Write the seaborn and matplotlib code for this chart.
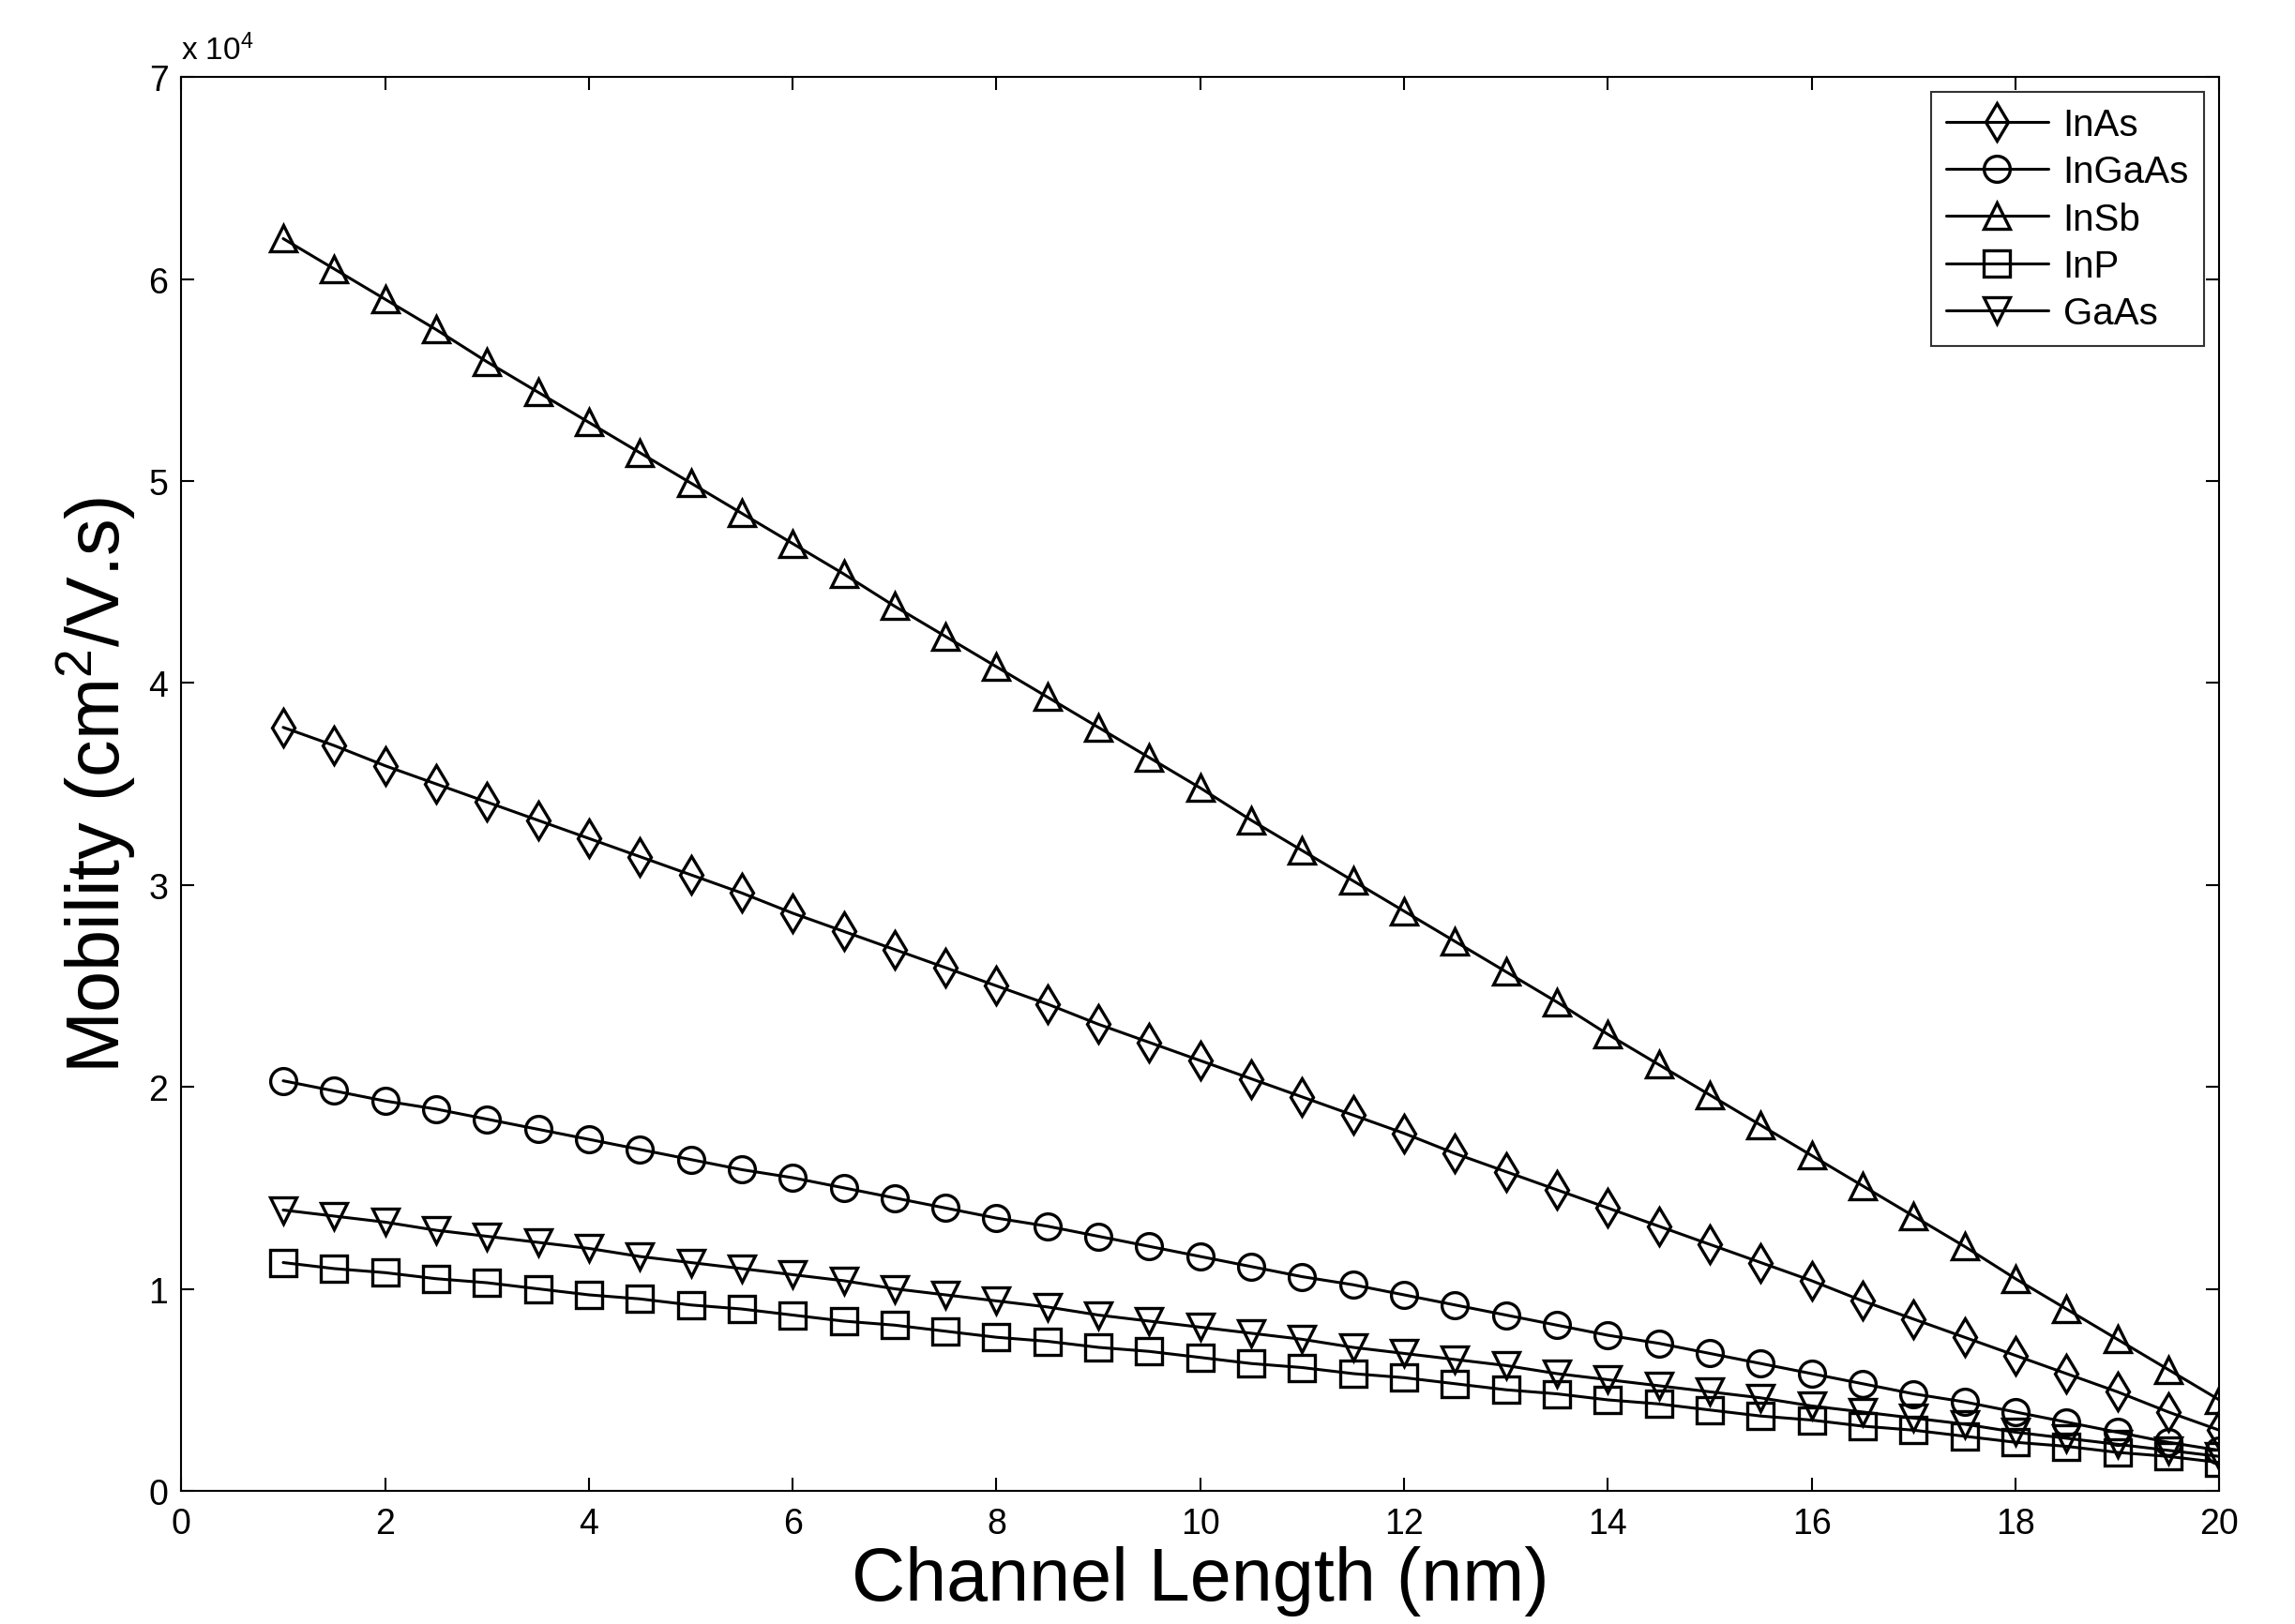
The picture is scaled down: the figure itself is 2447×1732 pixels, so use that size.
import matplotlib
matplotlib.use("Agg")
import matplotlib.pyplot as plt
import seaborn as sns
import pandas as pd
from matplotlib.ticker import FuncFormatter

# channel length (nm)
channel_length = [1, 1.5, 2, 2.5, 3, 3.5, 4, 4.5, 5, 5.5, 6, 6.5, 7, 7.5, 8, 8.5, 9, 9.5, 10,
                  10.5, 11, 11.5, 12, 12.5, 13, 13.5, 14, 14.5, 15, 15.5, 16, 16.5, 17, 17.5,
                  18, 18.5, 19, 19.5, 20]

# mobility (cm^2/V.s)
inas = [37800, 36900, 35900, 35000, 34100, 33200, 32300, 31400, 30500, 29600, 28600, 27700,
        26800, 25900, 25000, 24100, 23100, 22200, 21300, 20400, 19500, 18600, 17700, 16700,
        15800, 14900, 14000, 13100, 12200, 11300, 10400, 9400, 8500, 7600, 6700, 5800, 4900,
        3900, 3000]
ingaas = [20300, 19800, 19300, 18900, 18400, 17900, 17400, 16900, 16400, 15900, 15500, 15000,
          14500, 14000, 13500, 13100, 12600, 12100, 11600, 11100, 10600, 10200, 9700, 9200,
          8700, 8200, 7700, 7300, 6800, 6300, 5800, 5300, 4800, 4400, 3900, 3400, 2900, 2400,
          2000]
insb = [62000, 60500, 59000, 57500, 55900, 54400, 52900, 51400, 49900, 48400, 46900, 45400,
        43800, 42300, 40800, 39300, 37800, 36300, 34800, 33200, 31700, 30200, 28700, 27200,
        25700, 24200, 22600, 21100, 19600, 18100, 16600, 15100, 13600, 12100, 10500, 9000,
        7500, 6000, 4500]
inp = [11300, 11000, 10800, 10500, 10300, 10000, 9700, 9500, 9200, 9000, 8700, 8400, 8200,
       7900, 7600, 7400, 7100, 6900, 6600, 6300, 6100, 5800, 5600, 5300, 5000, 4800, 4500,
       4300, 4000, 3700, 3500, 3200, 3000, 2700, 2400, 2200, 1900, 1700, 1400]
gaas = [13900, 13600, 13300, 12900, 12600, 12300, 12000, 11600, 11300, 11000, 10700, 10400,
        10000, 9700, 9400, 9100, 8700, 8400, 8100, 7800, 7500, 7100, 6800, 6500, 6200, 5800,
        5500, 5200, 4900, 4600, 4200, 3900, 3600, 3300, 2900, 2600, 2300, 2000, 1700]

materials = ["InAs", "InGaAs", "InSb", "InP", "GaAs"]
markers = ["d", "o", "^", "s", "v"]
series = [inas, ingaas, insb, inp, gaas]

sns.set_style("white")
plt.rcParams["font.family"] = ["Liberation Sans", "DejaVu Sans"]
plt.rcParams["mathtext.default"] = "regular"
plt.rcParams.update({"text.color": "black", "axes.labelcolor": "black",
                     "xtick.color": "black", "ytick.color": "black"})

fig = plt.figure(figsize=(24.47, 17.33), dpi=100)
ax = fig.add_axes([0.079, 0.082, 0.888, 0.870])

for name, mk, vals in zip(materials, markers, series):
    df = pd.DataFrame({"L": channel_length, "mu": vals})
    sns.lineplot(data=df, x="L", y="mu", ax=ax, color="black", linewidth=2.2,
                 marker=mk, markersize=20, markerfacecolor="none",
                 markeredgecolor="black", markeredgewidth=2.4, label=name)

ax.set_xlim(0, 20)
ax.set_ylim(0, 70000)
ax.set_xticks(range(0, 21, 2))
ax.set_yticks(range(0, 70001, 10000))
ax.yaxis.set_major_formatter(FuncFormatter(lambda v, p: f"{v / 1e4:g}"))
ax.tick_params(direction="in", length=10, width=1.5, labelsize=27,
               top=True, right=True, bottom=True, left=True)
ax.tick_params(axis="x", pad=12)
ax.tick_params(axis="y", pad=10)
for s in ax.spines.values():
    s.set_linewidth(1.5)
    s.set_color("black")

ax.text(0.0, 1.008, "x 10$^4$", transform=ax.transAxes, fontsize=24,
        ha="left", va="bottom")

ax.set_xlabel("Channel Length (nm)", fontsize=57, labelpad=4)
ax.set_ylabel("Mobility (cm$^2$/V.s)", fontsize=57, labelpad=8)

leg = ax.legend(loc="upper right", fontsize=29, frameon=True, fancybox=False,
                edgecolor="black", handlelength=2.7, borderaxespad=0.4,
                labelspacing=0.3, borderpad=0.4, handletextpad=0.4)
leg.get_frame().set_linewidth(1.5)

fig.savefig("out.png", dpi=100, facecolor="white")
